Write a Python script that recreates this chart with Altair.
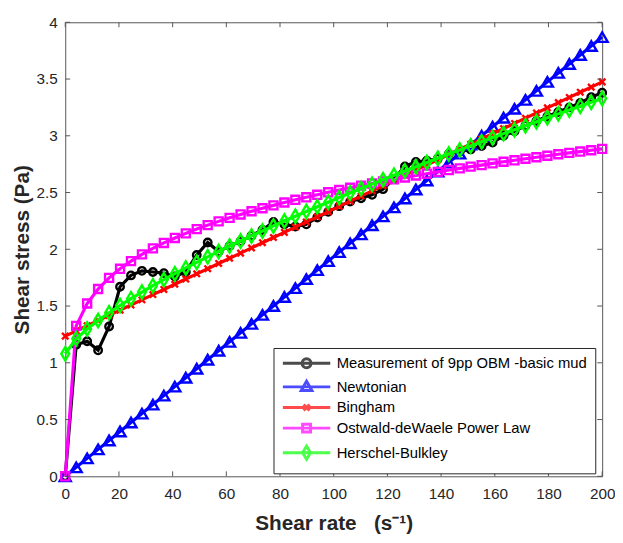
import altair as alt
import pandas as pd

# ---------------- data ----------------
shear_rate = [0, 4.08, 8.16, 12.24, 16.33, 20.41, 24.49, 28.57, 32.65, 36.73,
              40.82, 44.90, 48.98, 53.06, 57.14, 61.22, 65.31, 69.39, 73.47, 77.55,
              81.63, 85.71, 89.80, 93.88, 97.96, 102.04, 106.12, 110.20, 114.29, 118.37,
              122.45, 126.53, 130.61, 134.69, 138.78, 142.86, 146.94, 151.02, 155.10, 159.18,
              163.27, 167.35, 171.43, 175.51, 179.59, 183.67, 187.76, 191.84, 195.92, 200.0]

measured = [0, 1.16, 1.19, 1.11, 1.32, 1.67, 1.77, 1.81, 1.80, 1.79,
            1.76, 1.80, 1.95, 2.06, 1.98, 2.03, 2.07, 2.12, 2.17, 2.24,
            2.22, 2.20, 2.22, 2.28, 2.33, 2.38, 2.42, 2.45, 2.48, 2.53,
            2.62, 2.73, 2.77, 2.78, 2.80, 2.84, 2.86, 2.88, 2.91, 2.94,
            3.00, 3.04, 3.09, 3.13, 3.17, 3.21, 3.25, 3.29, 3.34, 3.38]

newtonian = [0, 0.079, 0.158, 0.237, 0.316, 0.395, 0.474, 0.553, 0.632, 0.711,
             0.790, 0.869, 0.948, 1.027, 1.106, 1.185, 1.264, 1.343, 1.422, 1.501,
             1.580, 1.658, 1.738, 1.817, 1.896, 1.975, 2.053, 2.132, 2.212, 2.290,
             2.369, 2.448, 2.527, 2.606, 2.685, 2.764, 2.843, 2.922, 3.001, 3.080,
             3.159, 3.238, 3.317, 3.396, 3.475, 3.554, 3.633, 3.712, 3.791, 3.870]

bingham = [1.235, 1.281, 1.326, 1.372, 1.418, 1.464, 1.509, 1.555, 1.601, 1.646,
           1.692, 1.738, 1.784, 1.829, 1.875, 1.921, 1.966, 2.012, 2.058, 2.104,
           2.149, 2.195, 2.241, 2.286, 2.332, 2.378, 2.424, 2.469, 2.515, 2.561,
           2.606, 2.652, 2.698, 2.744, 2.789, 2.835, 2.881, 2.926, 2.972, 3.018,
           3.064, 3.109, 3.155, 3.201, 3.246, 3.292, 3.338, 3.384, 3.429, 3.475]

power_law = [0, 1.325, 1.522, 1.650, 1.748, 1.828, 1.896, 1.955, 2.008, 2.056,
             2.100, 2.140, 2.178, 2.213, 2.246, 2.277, 2.307, 2.335, 2.362, 2.387,
             2.412, 2.436, 2.458, 2.480, 2.502, 2.522, 2.542, 2.561, 2.580, 2.598,
             2.616, 2.633, 2.650, 2.666, 2.682, 2.698, 2.713, 2.728, 2.742, 2.757,
             2.771, 2.784, 2.798, 2.811, 2.824, 2.837, 2.849, 2.861, 2.873, 2.885]

herschel = [1.080, 1.211, 1.298, 1.373, 1.441, 1.505, 1.565, 1.623, 1.679, 1.733,
            1.785, 1.836, 1.885, 1.934, 1.981, 2.028, 2.073, 2.118, 2.162, 2.206,
            2.249, 2.291, 2.333, 2.375, 2.415, 2.456, 2.496, 2.535, 2.574, 2.613,
            2.652, 2.690, 2.727, 2.765, 2.802, 2.839, 2.875, 2.911, 2.947, 2.983,
            3.019, 3.054, 3.089, 3.124, 3.158, 3.193, 3.227, 3.261, 3.295, 3.328]

series_names = ["Measurement of 9pp OBM -basic mud", "Newtonian", "Bingham",
                "Ostwald-deWaele Power Law", "Herschel-Bulkley"]
series_values = [measured, newtonian, bingham, power_law, herschel]
series_colors = ["#000000", "#0000ff", "#ff0000", "#ff00ff", "#00ff00"]

x_ticks = [0, 20, 40, 60, 80, 100, 120, 140, 160, 180, 200]
y_ticks = [0, 0.5, 1, 1.5, 2, 2.5, 3, 3.5, 4]

# ---------------- styling ----------------
W, H = 544, 460
FONT = "Liberation Sans"
AXIS_COLOR = "#555555"
TEXT_COLOR = "#262626"

marker_shapes = [
    ("circle", 58),
    ("triangle-up", 125),
    ("M-1,-1L1,1M-1,1L1,-1", 42),
    ("square", 66),
    ("M0,-1.35L0.8,0L0,1.35L-0.8,0Z", 100),
]
legend_paths = [
    "M-1,0H7M3.75,0A0.75,0.75,0,1,1,2.25,0A0.75,0.75,0,1,1,3.75,0",
    "M-1,0H7M3,-0.95L3.9,0.6L2.1,0.6Z",
    "M-1,0H7M2.5,-0.5L3.5,0.5M2.5,0.5L3.5,-0.5",
    "M-1,0H7M2.33,-0.67H3.67V0.67H2.33Z",
    "M-1,0H7M3,-1.1L3.67,0L3,1.1L2.33,0Z",
]

rows = []
for name, vals in zip(series_names, series_values):
    for xv, yv in zip(shear_rate, vals):
        rows.append({"rate": xv, "stress": yv, "series": name})
df = pd.DataFrame(rows)

x_scale = alt.Scale(domain=[0, 200], nice=False, zero=False)
y_scale = alt.Scale(domain=[0, 4], nice=False, zero=False)

x_axis = alt.Axis(values=x_ticks, ticks=False, domain=False, grid=False,
                  labelFlush=False, labelOverlap=False,
                  labelPadding=10, titlePadding=11,
                  title="Shear\u00a0rate\u00a0\u00a0\u00a0(s\u207b\u00b9)")
y_axis = alt.Axis(values=y_ticks, ticks=False, domain=False, grid=False,
                  labelFlush=False, labelOverlap=False,
                  format="~g", labelPadding=8, titlePadding=4,
                  title="Shear stress (Pa)")

X = alt.X("rate:Q", scale=x_scale, axis=x_axis)
Y = alt.Y("stress:Q", scale=y_scale, axis=y_axis)

base = alt.Chart(df)
layers = []
for name, color, (shape, size) in zip(series_names, series_colors, marker_shapes):
    sub = base.transform_filter(alt.datum.series == name)
    layers.append(sub.mark_line(color=color, strokeWidth=3.2).encode(x=X, y=Y))
    layers.append(sub.mark_point(color=color, shape=shape, size=size, filled=False,
                                 strokeWidth=2.4, opacity=1).encode(x=X, y=Y))

# legend from a hidden, empty layer
legend_layer = base.transform_filter("false").mark_point(filled=False, strokeWidth=3).encode(
    x=X, y=Y,
    color=alt.Color("series:N",
                    scale=alt.Scale(domain=series_names, range=series_colors),
                    legend=alt.Legend(title=None, orient="none", legendX=211, legendY=330,
                                      symbolSize=144, labelOffset=41, symbolStrokeWidth=3,
                                      labelFont=FONT, labelFontSize=15, labelColor="#000000",
                                      labelLimit=400, padding=8, rowPadding=0.9,
                                      strokeColor=TEXT_COLOR, fillColor="white")),
    shape=alt.Shape("series:N",
                    scale=alt.Scale(domain=series_names, range=legend_paths)),
)

# inward tick marks on all four sides (same fields/axes as the data)
xt = alt.Chart(pd.DataFrame({"rate": x_ticks}))
yt = alt.Chart(pd.DataFrame({"stress": y_ticks}))
tick_layers = [
    xt.mark_rule(color=AXIS_COLOR, strokeWidth=1).encode(x=X, y=alt.value(H), y2=alt.value(H - 5)),
    xt.mark_rule(color=AXIS_COLOR, strokeWidth=1).encode(x=X, y=alt.value(0), y2=alt.value(5)),
    yt.mark_rule(color=AXIS_COLOR, strokeWidth=1).encode(y=Y, x=alt.value(0), x2=alt.value(5)),
    yt.mark_rule(color=AXIS_COLOR, strokeWidth=1).encode(y=Y, x=alt.value(W), x2=alt.value(W - 5)),
]

chart = alt.layer(*layers, *tick_layers, legend_layer).properties(
    width=W, height=H,
    autosize=alt.AutoSizeParams(type="none"),
    padding={"left": 58, "top": 11, "right": 13, "bottom": 56},
    background="white",
).configure_view(
    stroke=AXIS_COLOR, strokeWidth=1
).configure_axis(
    labelFont=FONT, labelFontSize=15.5, labelColor=TEXT_COLOR,
    titleFont=FONT, titleFontSize=21, titleFontWeight="bold", titleColor=TEXT_COLOR,
)

chart.save("out.html", embed_options={"renderer": "svg", "actions": False})
